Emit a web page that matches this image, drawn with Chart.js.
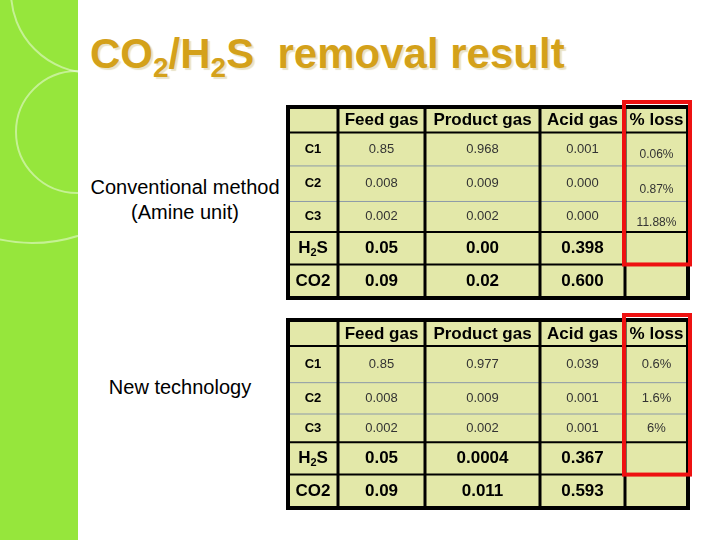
<!DOCTYPE html>
<html>
<head>
<meta charset="utf-8">
<script src="https://cdn.jsdelivr.net/npm/chart.js@4.4.1/dist/chart.umd.min.js"></script>
<style>
  body { margin: 0; width: 720px; height: 540px; position: relative; overflow: hidden; background: #fff; font-family: "Liberation Sans", Arial, sans-serif; }
  #strip { position: absolute; left: 0; top: 0; width: 78px; height: 540px; background: #96e63c; overflow: hidden; }
  .ring { position: absolute; border: 2px solid rgba(255,255,255,0.45); border-radius: 50%; }
  #title { position: absolute; left: 90px; top: 30px; font-size: 42px; font-weight: bold; color: #d4a11a; text-shadow: 2px 2px 1px #e9e3c8; white-space: nowrap; }
  #title sub { font-size: 28px; vertical-align: -9px; }
  .lbl { position: absolute; font-size: 20px; color: #000; text-align: center; line-height: 25px; }
  .box { position: absolute; }
</style>
</head>
<body>
<div id="strip">
  <div class="ring" style="left:-120px;top:-60px;width:300px;height:300px;"></div>
  <div class="ring" style="left:10px;top:-90px;width:160px;height:160px;"></div>
  <div class="ring" style="left:15px;top:70px;width:120px;height:120px;"></div>
</div>
<div id="title">CO<sub>2</sub>/H<sub>2</sub>S&nbsp; removal result</div>
<div class="lbl" style="left:80px;top:175px;width:210px;">Conventional method<br>(Amine unit)</div>
<div class="lbl" style="left:80px;top:375px;width:200px;">New technology</div>
<div class="box" style="left:282px;top:96px;width:412px;height:206px;"><canvas id="t1"></canvas></div>
<div class="box" style="left:282px;top:309px;width:412px;height:203px;"><canvas id="t2"></canvas></div>
<script>
// Table data
var headers = ["", "Feed gas", "Product gas", "Acid gas", "% loss"];
var components = ["C1", "C2", "C3", "H2S", "CO2"];

var convFeed = ["0.85", "0.008", "0.002", "0.05", "0.09"];
var convProduct = ["0.968", "0.009", "0.002", "0.00", "0.02"];
var convAcid = ["0.001", "0.000", "0.000", "0.398", "0.600"];
var convLoss = ["0.06%", "0.87%", "11.88%", "", ""];

var newFeed = ["0.85", "0.008", "0.002", "0.05", "0.09"];
var newProduct = ["0.977", "0.009", "0.002", "0.0004", "0.011"];
var newAcid = ["0.039", "0.001", "0.001", "0.367", "0.593"];
var newLoss = ["0.6%", "1.6%", "6%", "", ""];

// Layout weights (not data)
var colWidths = [50, 87, 115, 85, 63];
var rowHeights1 = [25, 33, 35, 30, 32, 33];
var rowHeights2 = [25, 35, 30, 27, 31, 32];

function cum(arr) {
  var out = [0];
  arr.forEach(function (v) { out.push(out[out.length - 1] + v); });
  return out;
}

function makeTable(id, cols, rowHeights, lossLow) {
  var xs = cum(colWidths);
  var ys = cum(rowHeights);
  var points = [];
  components.forEach(function (c, r) {
    cols.forEach(function (col, ci) {
      points.push({ x: (xs[ci + 1] + xs[ci + 2]) / 2, y: (ys[r + 1] + ys[r + 2]) / 2, t: col[r], r: r });
    });
  });

  var tablePlugin = {
    id: 'table',
    afterDatasetsDraw: function (chart) {
      var ctx = chart.ctx;
      var sx = chart.scales.x, sy = chart.scales.y;
      var X = function (v) { return sx.getPixelForValue(v); };
      var Y = function (v) { return sy.getPixelForValue(v); };
      var top = Y(0), bottom = Y(ys[ys.length - 1]), left = X(0), right = X(xs[xs.length - 1]);
      ctx.save();
      ctx.fillStyle = '#e3e8a9';
      ctx.fillRect(left, top, right - left, bottom - top);
      // thin row lines
      ctx.strokeStyle = '#8c9aa8';
      ctx.lineWidth = 1;
      [2, 3].forEach(function (i) {
        ctx.beginPath(); ctx.moveTo(left, Y(ys[i])); ctx.lineTo(right, Y(ys[i])); ctx.stroke();
      });
      // heavy lines
      ctx.strokeStyle = '#000';
      ctx.lineWidth = 2;
      [1, 4, 5].forEach(function (i) {
        ctx.beginPath(); ctx.moveTo(left, Y(ys[i])); ctx.lineTo(right, Y(ys[i])); ctx.stroke();
      });
      ctx.lineWidth = 3;
      for (var i = 1; i < xs.length - 1; i++) {
        ctx.beginPath(); ctx.moveTo(X(xs[i]), top); ctx.lineTo(X(xs[i]), bottom); ctx.stroke();
      }
      ctx.lineWidth = 4;
      ctx.strokeRect(left, top, right - left, bottom - top);
      // headers
      ctx.fillStyle = '#000';
      ctx.textAlign = 'center';
      ctx.textBaseline = 'middle';
      ctx.font = 'bold 17px "Liberation Sans", Arial';
      headers.forEach(function (h, i) {
        ctx.fillText(h, X((xs[i] + xs[i + 1]) / 2), Y((ys[0] + ys[1]) / 2) + 1);
      });
      // row labels
      components.forEach(function (c, r) {
        var cx = X((xs[0] + xs[1]) / 2), cy = Y((ys[r + 1] + ys[r + 2]) / 2);
        if (r < 3) {
          ctx.font = 'bold 13px "Liberation Sans", Arial';
          ctx.fillText(c, cx, cy);
        } else if (c === 'H2S') {
          ctx.font = 'bold 17px "Liberation Sans", Arial';
          var w1 = ctx.measureText('H').width, w3 = ctx.measureText('S').width;
          ctx.font = 'bold 11px "Liberation Sans", Arial';
          var w2 = ctx.measureText('2').width;
          var sx0 = cx - (w1 + w2 + w3) / 2;
          ctx.textAlign = 'left';
          ctx.font = 'bold 17px "Liberation Sans", Arial';
          ctx.fillText('H', sx0, cy);
          ctx.fillText('S', sx0 + w1 + w2, cy);
          ctx.font = 'bold 11px "Liberation Sans", Arial';
          ctx.fillText('2', sx0 + w1, cy + 5);
          ctx.textAlign = 'center';
        } else {
          ctx.font = 'bold 17px "Liberation Sans", Arial';
          ctx.fillText(c, cx, cy);
        }
      });
      // values
      points.forEach(function (p) {
        ctx.font = p.r < 3 ? '13px "Liberation Sans", Arial' : 'bold 17px "Liberation Sans", Arial';
        var off = 0;
        if (lossLow && p.x > xs[4] && p.r < 3) { off = 6; ctx.font = '12px "Liberation Sans", Arial'; }
        ctx.fillStyle = p.r < 3 ? '#333' : '#000';
        ctx.fillText(p.t, X(p.x), Y(p.y) + off);
      });
      // red highlight around % loss column
      ctx.strokeStyle = '#ee1111';
      ctx.lineWidth = 4;
      ctx.strokeRect(X(xs[4]) - 1, top - 5, X(xs[5]) - X(xs[4]) + 3, Y(ys[5]) - top + 5);
      ctx.restore();
    }
  };

  new Chart(document.getElementById(id), {
    type: 'scatter',
    data: { datasets: [{ data: points, pointRadius: 0 }] },
    options: {
      responsive: true,
      maintainAspectRatio: false,
      animation: false,
      layout: { padding: { left: 6, right: 6, top: 11, bottom: 4 } },
      plugins: { legend: { display: false }, tooltip: { enabled: false } },
      scales: {
        x: { display: false, min: 0, max: xs[xs.length - 1] },
        y: { display: false, min: 0, max: ys[ys.length - 1], reverse: true }
      }
    },
    plugins: [tablePlugin]
  });
}

makeTable('t1', [convFeed, convProduct, convAcid, convLoss], rowHeights1, true);
makeTable('t2', [newFeed, newProduct, newAcid, newLoss], rowHeights2, false);
</script>
</body>
</html>
